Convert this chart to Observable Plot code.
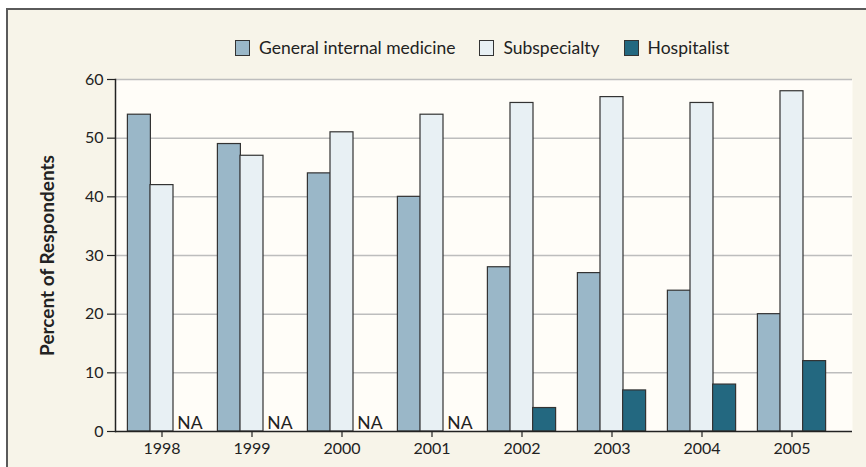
<!DOCTYPE html>
<html>
<head>
<meta charset="utf-8">
<script src="https://cdn.jsdelivr.net/npm/d3@7"></script>
<script src="https://cdn.jsdelivr.net/npm/@observablehq/plot@0.6"></script>
<style>
  html, body { margin: 0; padding: 0; background: #ffffff; }
  body { width: 866px; height: 467px; position: relative; overflow: hidden; font-family: Lato, "Open Sans", sans-serif; }
  #panel { position: absolute; left: 6px; top: 8px; width: 880px; height: 480px; background: #f7f4e9;
           border-left: 2px solid #5a5a5a; border-top: 2px solid #5a5a5a; }
  #chart { position: absolute; left: 0; top: 0; }
  #legend { position: absolute; top: 37px; left: 235px; display: flex; align-items: center; font-size: 17.5px; color: #222; white-space: nowrap; }
  .item { display: flex; align-items: center; margin-right: 24px; }
  .sw { width: 13px; height: 14px; border: 1px solid #333; margin-right: 9px; }
</style>
</head>
<body>
<div id="panel"></div>
<div id="legend"></div>
<div id="chart"></div>
<script>
const years = ["1998", "1999", "2000", "2001", "2002", "2003", "2004", "2005"];
const seriesNames = ["General internal medicine", "Subspecialty", "Hospitalist"];
const seriesColors = ["#9ab7c8", "#e8f0f4", "#236880"];
const generalInternal = [54, 49, 44, 40, 28, 27, 24, 20];
const subspecialty = [42, 47, 51, 54, 56, 57, 56, 58];
const hospitalist = [null, null, null, null, 4, 7, 8, 12];
const yTicks = [0, 10, 20, 30, 40, 50, 60];
const yLabel = "Percent of Respondents";
const naLabel = "NA";

const rows = years.map((y, i) => ({year: y, gim: generalInternal[i], sub: subspecialty[i], hosp: hospitalist[i]}));

// legend
const legend = document.getElementById("legend");
seriesNames.forEach((name, i) => {
  const it = document.createElement("div");
  it.className = "item";
  const sw = document.createElement("div");
  sw.className = "sw";
  sw.style.background = seriesColors[i];
  const tx = document.createElement("span");
  tx.textContent = name;
  it.appendChild(sw); it.appendChild(tx);
  legend.appendChild(it);
});

const xRange = [114.6, 838];
const bw = (xRange[1] - xRange[0]) / years.length * 0.25;
const barStyle = {stroke: "#333", strokeWidth: 1.2};

const chart = Plot.plot({
  width: 866,
  height: 467,
  marginLeft: 115,
  marginRight: 14,
  marginTop: 79,
  marginBottom: 36,
  style: "background: transparent; overflow: visible; font-family: Lato, 'Open Sans', sans-serif; color: #222;",
  x: {type: "band", domain: years, range: xRange, paddingInner: 0.75, paddingOuter: 0.375, align: 0.5},
  y: {domain: [0, 60]},
  marks: [
    Plot.frame({fill: "#fffdf8", stroke: null}),
    Plot.ruleY(yTicks.filter(d => d > 0), {stroke: "#bdbdbd", strokeWidth: 1.5}),
    Plot.barY(rows, {x: "year", y: "gim", fill: seriesColors[0], dx: -bw, ...barStyle}),
    Plot.barY(rows, {x: "year", y: "sub", fill: seriesColors[1], ...barStyle}),
    Plot.barY(rows.filter(d => d.hosp != null), {x: "year", y: "hosp", fill: seriesColors[2], dx: bw, ...barStyle}),
    Plot.text(rows.filter(d => d.hosp == null), {x: "year", y: () => 0, text: () => naLabel, dx: bw / 2 + 4, dy: -3, textAnchor: "start", lineAnchor: "bottom", fontSize: 17.5, fill: "#222"}),
    Plot.ruleY([0], {stroke: "#222", strokeWidth: 1.5}),
    Plot.frame({anchor: "left", stroke: "#222", strokeWidth: 1.5}),
    Plot.axisY({ticks: yTicks, tickSize: 8, tickPadding: 4, fontSize: 16, label: null, stroke: "#222", strokeWidth: 1.2}),
    Plot.axisX({tickSize: 6, tickPadding: 5, fontSize: 16, label: null, stroke: "#222", strokeWidth: 1.2}),
    Plot.text([yLabel], {frameAnchor: "left", textAnchor: "middle", rotate: -90, dx: -68, fontSize: 19, fontWeight: "bold", fill: "#222"})
  ]
});
document.getElementById("chart").appendChild(chart);
</script>
</body>
</html>
